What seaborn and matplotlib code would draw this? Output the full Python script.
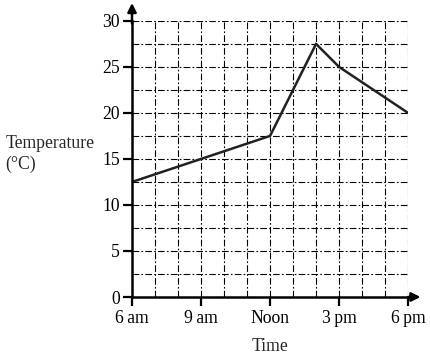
import matplotlib
matplotlib.use("Agg")
import matplotlib.pyplot as plt
import seaborn as sns
import numpy as np
import pandas as pd

# Data (hours since midnight, temperature in degrees C)
hours = [6, 12, 14, 15, 18]
temps = [12.5, 17.5, 27.5, 25, 20]
tick_hours = [6, 9, 12, 15, 18]
tick_labels = ['6\u2009am', '9\u2009am', 'Noon', '3\u2009pm', '6\u2009pm']

df = pd.DataFrame({'hour': hours, 'temp': temps})

sns.set_style('white')
plt.rcParams['font.family'] = ['Liberation Serif', 'DejaVu Serif']

fig = plt.figure(figsize=(4.3, 3.54), dpi=100)
ax = fig.add_axes([0.307, 0.161, 0.642, 0.780])

# dash-dot grid every hour / 2.5 degrees
dashdot = (0, (6, 2, 1.5, 2))
for h in np.arange(7, 19, 1):
    ax.axvline(h, color='black', lw=0.8, linestyle=dashdot, zorder=1)
for t in np.arange(2.5, 30.1, 2.5):
    ax.axhline(t, color='black', lw=0.8, linestyle=dashdot, zorder=1)

sns.lineplot(data=df, x='hour', y='temp', ax=ax, color='#222222',
             linewidth=1.8, zorder=3)

ax.set_xlim(6, 18)
ax.set_ylim(0, 30)
ax.set_xticks(tick_hours)
ax.set_xticklabels(tick_labels)
ax.set_yticks(np.arange(0, 31, 5))
ax.tick_params(axis='both', direction='out', length=6.5, width=1.6,
               labelsize=12.7, colors='black', pad=2, bottom=True, left=True)
ax.tick_params(axis='x', pad=3)

for side in ['top', 'right']:
    ax.spines[side].set_visible(False)
for side in ['left', 'bottom']:
    ax.spines[side].set_linewidth(1.8)
    ax.spines[side].set_color('black')
    ax.spines[side].set_zorder(4)

# axis arrows
ax.annotate('', xy=(0, 1.075), xytext=(0, 0.98), xycoords='axes fraction',
            arrowprops=dict(arrowstyle='-|>', color='black', lw=1.8,
                            mutation_scale=13), annotation_clip=False)
ax.annotate('', xy=(1.055, 0), xytext=(0.99, 0), xycoords='axes fraction',
            arrowprops=dict(arrowstyle='-|>', color='black', lw=1.8,
                            mutation_scale=13), annotation_clip=False)

ax.set_xlabel('Time', fontsize=12.7, labelpad=8)
ax.set_ylabel('')
fig.text(0.012, 0.565, 'Temperature\n(\u00b0C)', fontsize=12.7,
         ha='left', va='center', linespacing=1.3)

fig.savefig('out.png', dpi=100)
